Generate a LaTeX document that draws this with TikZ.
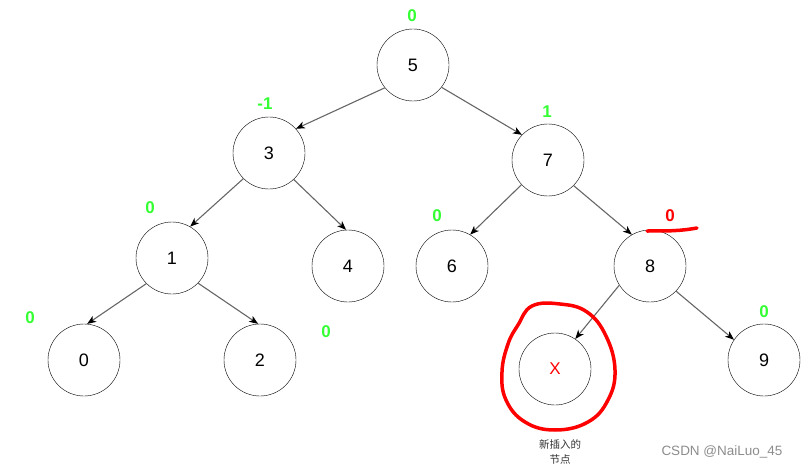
\documentclass[tikz,border=0pt]{standalone}
\usepackage{fontspec}
\setmainfont{Liberation Sans}
\newfontfamily\cjk{Noto Sans CJK SC}
\usepackage{xcolor}
\usetikzlibrary{arrows.meta}
\definecolor{balGreen}{HTML}{33FF33}
\definecolor{newRed}{HTML}{FF0000}
\definecolor{edgeGray}{HTML}{666666}

\begin{document}
\begin{tikzpicture}[
    x=1pt, y=-1pt,
    tnode/.style={draw, circle, minimum size=72pt, inner sep=0pt, font=\fontsize{18}{18}\selectfont},
    bal/.style={font=\fontsize{17}{17}\selectfont\bfseries, text=#1, inner sep=0pt},
    bal/.default=balGreen,
    arrow/.style={draw=edgeGray, line width=1.1pt, -{Stealth[length=9pt, width=7pt, inset=2.5pt, black]}}
  ]
  \useasboundingbox (0,0) rectangle (801,468);

  % tree nodes
  \node[tnode] (n5) at (413, 65)  {5};
  \node[tnode] (n3) at (269, 153) {3};
  \node[tnode] (n7) at (548, 160) {7};
  \node[tnode] (n1) at (172, 258) {1};
  \node[tnode] (n4) at (348, 266) {4};
  \node[tnode] (n6) at (452, 266) {6};
  \node[tnode] (n8) at (650, 266) {8};
  \node[tnode] (n0) at (84, 360)  {0};
  \node[tnode] (n2) at (260, 360) {2};
  \node[tnode, text=newRed, font=\fontsize{17}{17}\selectfont] (nX) at (555, 369) {X};
  \node[tnode] (n9) at (764, 360) {9};

  % balance factors
  \node[bal] (b5) at (412, 16)  {0};
  \node[bal] (b3) at (265, 104) {-1};
  \node[bal] (b7) at (547, 112) {1};
  \node[bal] (b1) at (150, 208) {0};
  \node[bal] (b6) at (437, 216) {0};
  \node[bal=newRed] (b8) at (670, 216) {0};
  \node[bal] (b0) at (30, 318)  {0};
  \node[bal] (b2) at (326, 332) {0};
  \node[bal] (b9) at (764, 312) {0};

  % edges
  \draw[arrow] (n5.219) -- (n3.42);
  \draw[arrow] (n5.-38) -- (n7.136);
  \draw[arrow] (n3.225) -- (n1.60);
  \draw[arrow] (n3.-47) -- (n4.93);
  \draw[arrow] (n7.223) -- (n6.60);
  \draw[arrow] (n7.-45) -- (n8.120);
  \draw[arrow] (n1.225) -- (n0.85);
  \draw[arrow] (n1.-44) -- (n2.93);
  \draw[arrow] (n8.212) -- (nX.56);
  \draw[arrow] (n8.-44) -- (n9.146);

  % hand marks
  \draw[newRed, line width=3.5pt, line cap=round] (647,231) .. controls (670,231) and (680,231) .. (697,228);
  \draw[newRed, line width=3.5pt] plot[smooth cycle, tension=0.7] coordinates {
    (532,306) (560,304) (587,312) (606,336) (615,370) (608,400) (588,422)
    (555,430) (525,422) (506,400) (502,372) (508,344) (518,325)};

  % captions
  \node[font=\cjk\fontsize{10.5}{14.5}\selectfont, text=black!80, align=center] (cap) at (560,452) {新插入的\\节点};
  \node[font=\fontsize{13.5}{13.5}\selectfont, text=black!45] (wm) at (722,452) {CSDN @NaiLuo\_45};
\end{tikzpicture}
\end{document}
